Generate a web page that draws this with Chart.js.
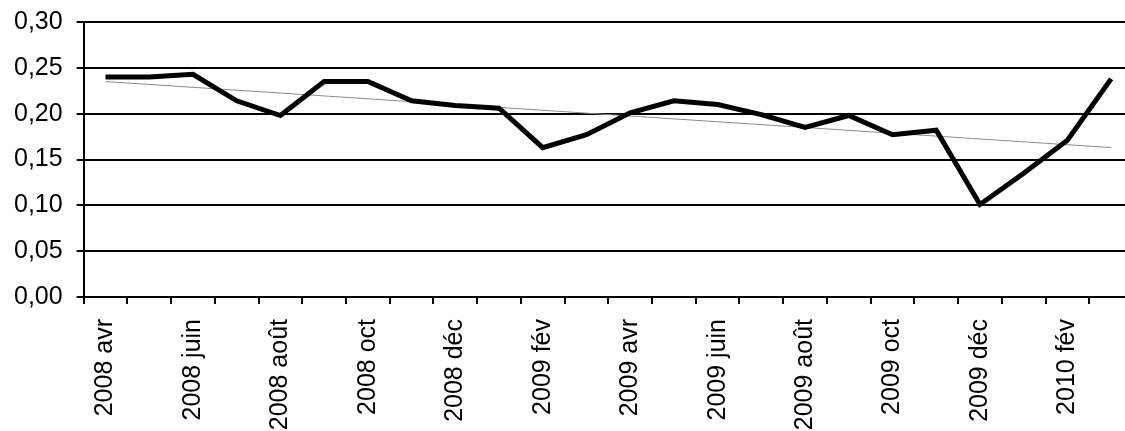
<!DOCTYPE html>
<html>
<head>
<meta charset="utf-8">
<script src="https://cdn.jsdelivr.net/npm/chart.js@4/dist/chart.umd.min.js"></script>
<style>
html,body{margin:0;padding:0;background:#fff;}
#box{width:1125px;height:431px;}
</style>
</head>
<body>
<div id="box"><canvas id="grafico"></canvas></div>
<script>
// months, avr 2008 -> mars 2010
const mois = [
    "2008 avr","2008 mai","2008 juin","2008 juil","2008 août","2008 sept",
    "2008 oct","2008 nov","2008 déc","2009 janv","2009 fév","2009 mars",
    "2009 avr","2009 mai","2009 juin","2009 juil","2009 août","2009 sept",
    "2009 oct","2009 nov","2009 déc","2010 janv","2010 fév","2010 mars"
];

const valeurs = [
    0.240,0.240,0.243,0.214,0.198,0.235,
    0.235,0.214,0.209,0.206,0.163,0.177,
    0.201,0.214,0.210,0.199,0.185,0.198,
    0.177,0.182,0.101,0.135,0.171,0.238
];

// trend line, only its two ends
const tendance = [
    0.235,null,null,null,null,null,
    null,null,null,null,null,null,
    null,null,null,null,null,null,
    null,null,null,null,null,0.163
];

const yTicks = [0,0.05,0.10,0.15,0.20,0.25,0.30];

Chart.defaults.font.family = "'Liberation Sans', Arial, sans-serif";
Chart.defaults.font.size = 25;
Chart.defaults.color = "#000";

// the original plot runs a few pixels past the right edge
const bordDroit = {
    id: "bordDroit",
    afterLayout(chart){
        const x = chart.scales.x;
        const fin = chart.width + 8;
        x.right = fin;
        x.width = fin - x.left;
        x.configure();
        chart.chartArea.right = fin;
        chart.chartArea.width = fin - chart.chartArea.left;
    }
};

const ctx = document.getElementById("grafico");

new Chart(ctx, {
    type: "line",
    data: {
        labels: mois,
        datasets: [
            {
                data: valeurs,
                borderColor: "#000",
                borderWidth: 5,
                pointRadius: 0,
                tension: 0,
                order: 1
            },
            {
                data: tendance,
                borderColor: "#8c8c8c",
                borderWidth: 1,
                pointRadius: 0,
                spanGaps: true,
                order: 2
            }
        ]
    },
    plugins: [bordDroit],
    options: {
        responsive: true,
        maintainAspectRatio: false,
        animation: false,
        layout: {
            autoPadding: false,
            padding: {top: 22, left: 0, right: 0, bottom: 0}
        },
        plugins: {
            legend: {display: false},
            tooltip: {enabled: false}
        },
        scales: {
            x: {
                offset: true,
                grid: {
                    offset: true,
                    drawOnChartArea: false,
                    color: "#000",
                    lineWidth: 2,
                    tickLength: 7
                },
                border: {color: "#000", width: 2},
                ticks: {
                    autoSkip: false,
                    minRotation: 90,
                    maxRotation: 90,
                    padding: 15,
                    callback: function(v, i){
                        return i % 2 === 0 ? mois[i] : "";
                    }
                },
                afterFit: function(axis){
                    // labels run off the bottom like in the original
                    axis.paddingLeft = 0;
                    axis.paddingRight = 0;
                    axis.height = 134;
                }
            },
            y: {
                min: 0,
                max: 0.3,
                afterBuildTicks: function(axis){
                    axis.ticks = yTicks.map(v => ({value: v}));
                },
                grid: {
                    color: "#000",
                    lineWidth: 2,
                    tickLength: 7
                },
                border: {color: "#000", width: 2},
                ticks: {
                    padding: 14,
                    callback: function(v){
                        return v.toFixed(2).replace(".", ",");
                    }
                },
                afterFit: function(axis){
                    axis.paddingTop = 0;
                    axis.paddingBottom = 0;
                }
            }
        }
    }
});
</script>
</body>
</html>
